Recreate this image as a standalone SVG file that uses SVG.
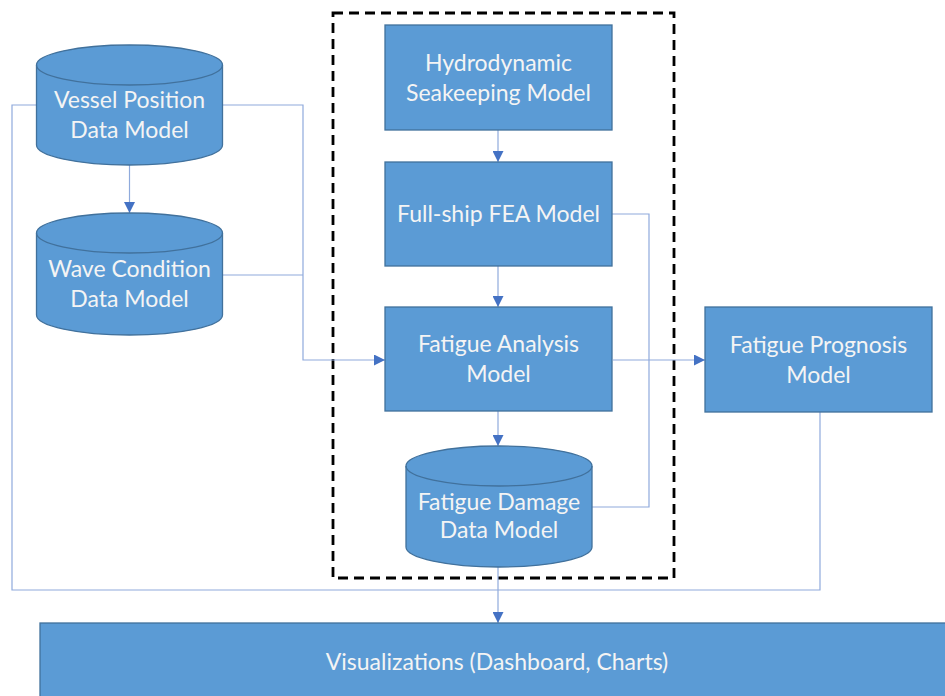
<svg xmlns="http://www.w3.org/2000/svg" width="945" height="696" viewBox="0 0 945 696">
  <style>
    .shape { fill: #5B9BD5; stroke: #41719C; stroke-width: 1.3; }
    .rim { fill: none; stroke: #41719C; stroke-width: 1.3; }
    .label { font-family: Lato, "Open Sans", "Liberation Sans", sans-serif; font-size: 23px; fill: #F4F4F4; text-anchor: middle; }
    .wire { fill: none; stroke: #8FAADC; stroke-width: 1.2; }
    .frame { fill: none; stroke: #000; stroke-width: 2.8; stroke-dasharray: 10 6; }
  </style>
  <defs>
    <marker id="arrow" viewBox="0 0 10 10" refX="10" refY="5" markerWidth="11" markerHeight="11" markerUnits="userSpaceOnUse" orient="auto">
      <path d="M0,0 L10,5 L0,10 z" fill="#4472C4"/>
    </marker>
  </defs>
  <rect width="945" height="696" fill="#FFFFFF"/>

  <!-- dashed boundary of the analysis core -->
  <rect class="frame" x="333" y="13" width="341" height="565"/>

  <g id="connectors">
    <path class="wire" d="M36,105 H12 V590 H820 V412"/>
    <path class="wire" d="M498,567 V623" marker-end="url(#arrow)"/>
    <path class="wire" d="M223,105 H303 V360 H385" marker-end="url(#arrow)"/>
    <path class="wire" d="M223,275 H303"/>
    <path class="wire" d="M129.5,165 V213" marker-end="url(#arrow)"/>
    <path class="wire" d="M498,130 V162" marker-end="url(#arrow)"/>
    <path class="wire" d="M498,266 V307" marker-end="url(#arrow)"/>
    <path class="wire" d="M498,411 V446" marker-end="url(#arrow)"/>
    <path class="wire" d="M612,214 H649 V507 H592"/>
    <path class="wire" d="M613,360 H705" marker-end="url(#arrow)"/>
  </g>

  <g id="vessel-position">
    <path class="shape" d="M36.5,65 A93,20 0 0 1 222.5,65 V145 A93,20 0 0 1 36.5,145 Z"/>
    <path class="rim" d="M36.5,65 A93,20 0 0 0 222.5,65"/>
    <text class="label" x="129.5" y="108">Vessel Position</text>
    <text class="label" x="129.5" y="138">Data Model</text>
  </g>

  <g id="wave-condition">
    <path class="shape" d="M36.5,233 A93,20 0 0 1 222.5,233 V315 A93,20 0 0 1 36.5,315 Z"/>
    <path class="rim" d="M36.5,233 A93,20 0 0 0 222.5,233"/>
    <text class="label" x="129.5" y="277">Wave Condition</text>
    <text class="label" x="129.5" y="307">Data Model</text>
  </g>

  <g id="hydrodynamic">
    <rect class="shape" x="385" y="25" width="227" height="105"/>
    <text class="label" x="498.5" y="71">Hydrodynamic</text>
    <text class="label" x="498.5" y="101">Seakeeping Model</text>
  </g>

  <g id="full-ship-fea">
    <rect class="shape" x="385" y="162" width="227" height="104"/>
    <text class="label" x="498.5" y="222">Full-ship FEA Model</text>
  </g>

  <g id="fatigue-analysis">
    <rect class="shape" x="385" y="307" width="227" height="104"/>
    <text class="label" x="498.5" y="352">Fatigue Analysis</text>
    <text class="label" x="498.5" y="382">Model</text>
  </g>

  <g id="fatigue-damage">
    <path class="shape" d="M406,466 A93,20 0 0 1 592,466 V547 A93,20 0 0 1 406,547 Z"/>
    <path class="rim" d="M406,466 A93,20 0 0 0 592,466"/>
    <text class="label" x="499" y="510">Fatigue Damage</text>
    <text class="label" x="499" y="538">Data Model</text>
  </g>

  <g id="fatigue-prognosis">
    <rect class="shape" x="705" y="307" width="227" height="105"/>
    <text class="label" x="818.5" y="353">Fatigue Prognosis</text>
    <text class="label" x="818.5" y="383">Model</text>
  </g>

  <g id="visualizations">
    <rect class="shape" x="40" y="623" width="920" height="90"/>
    <text class="label" x="497" y="670" font-size="22">Visualizations (Dashboard, Charts)</text>
  </g>
</svg>
